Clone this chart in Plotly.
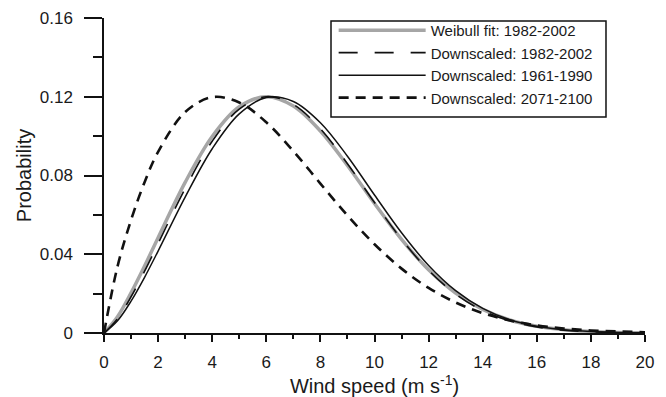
import plotly.graph_objects as go

# Wind speed samples (m s-1)
wind_speed = [0, 0.5, 1, 1.5, 2, 3, 4, 5, 6, 7, 8, 9, 10, 11, 12, 13, 14, 15, 16, 17, 18, 19, 20]

# Probability curves
weibull_fit_1982_2002 = [0, 0.0083, 0.0204, 0.0340, 0.0484, 0.0765, 0.0998, 0.1149, 0.1200, 0.1153,
                         0.1026, 0.0851, 0.0658, 0.0476, 0.0321, 0.0203, 0.0120, 0.0066, 0.0034,
                         0.0017, 0.0008, 0.0003, 0.0001]
downscaled_1982_2002 = [0, 0.0073, 0.0184, 0.0314, 0.0454, 0.0734, 0.0974, 0.1137, 0.1200, 0.1161,
                        0.1037, 0.0860, 0.0663, 0.0476, 0.0318, 0.0198, 0.0114, 0.0062, 0.0031,
                        0.0014, 0.0006, 0.0002, 0.0001]
downscaled_1961_1990 = [0, 0.0062, 0.0162, 0.0283, 0.0416, 0.0690, 0.0936, 0.1113, 0.1196, 0.1176,
                        0.1068, 0.0898, 0.0701, 0.0509, 0.0343, 0.0215, 0.0125, 0.0067, 0.0034,
                        0.0016, 0.0007, 0.0003, 0.0001]
downscaled_2071_2100 = [0, 0.0338, 0.0574, 0.0766, 0.0920, 0.1122, 0.1198, 0.1171, 0.1070, 0.0924,
                        0.0759, 0.0597, 0.0451, 0.0327, 0.0229, 0.0155, 0.0101, 0.0064, 0.0039,
                        0.0023, 0.0013, 0.0008, 0.0004]

y_tick_vals = [0, 0.04, 0.08, 0.12, 0.16]
y_tick_text = ["0", "0.04", "0.08", "0.12", "0.16"]
x_tick_vals = [0, 2, 4, 6, 8, 10, 12, 14, 16, 18, 20]

FONT = "Liberation Sans, Arial, sans-serif"
INK = "#1a1a1a"
LINE = "#111111"

fig = go.Figure()

series = [
    ("Weibull fit: 1982-2002", weibull_fit_1982_2002, dict(color="#a6a6a6", width=3.5, dash="solid")),
    ("Downscaled: 1982-2002", downscaled_1982_2002, dict(color=LINE, width=1.6, dash="19px,17px")),
    ("Downscaled: 1961-1990", downscaled_1961_1990, dict(color=LINE, width=1.5, dash="solid")),
    ("Downscaled: 2071-2100", downscaled_2071_2100, dict(color=LINE, width=2.6, dash="10px,7px")),
]

for name, values, line in series:
    fig.add_trace(go.Scatter(
        x=wind_speed, y=values, mode="lines", name=name,
        line=dict(shape="spline", smoothing=1.0, **line),
    ))

# Framed white panel behind the legend entries
fig.add_shape(
    type="rect", xref="paper", yref="paper",
    x0=0.4196, x1=0.9279, y0=0.6857, y1=0.9905,
    line=dict(color=LINE, width=1.5), fillcolor="white", layer="above",
)

fig.update_layout(
    width=666, height=397,
    margin=dict(l=104, r=21, t=18, b=64),
    paper_bgcolor="white", plot_bgcolor="white",
    font=dict(family=FONT, size=17, color=INK),
    legend=dict(
        x=0.4245, y=1.013, xanchor="left", yanchor="top",
        bgcolor="rgba(0,0,0,0)", borderwidth=0,
        font=dict(family=FONT, size=15, color=INK),
        itemwidth=87, tracegroupgap=0,
    ),
    showlegend=True,
)

fig.update_xaxes(
    range=[0, 20], showgrid=False, zeroline=False, automargin=False,
    showline=True, linecolor=LINE, linewidth=1.5,
    ticks="outside", ticklen=7, tickwidth=1.5, tickcolor=LINE,
    tickvals=x_tick_vals, ticklabelstandoff=6,
    minor=dict(dtick=1, ticks="outside", ticklen=4, tickwidth=1.5, tickcolor=LINE),
    title=dict(text="Wind speed (m s<sup>-1</sup>)", font=dict(size=20), standoff=4),
)

fig.update_yaxes(
    range=[0, 0.16], showgrid=False, zeroline=False, automargin=False,
    showline=True, linecolor=LINE, linewidth=1.5,
    ticks="outside", ticklen=18, tickwidth=1.5, tickcolor=LINE,
    tickvals=y_tick_vals, ticktext=y_tick_text, ticklabelstandoff=8,
    minor=dict(dtick=0.02, ticks="outside", ticklen=9, tickwidth=1.5, tickcolor=LINE),
    title=dict(text="Probability", font=dict(size=20), standoff=3),
)

fig.write_html("out.html")
